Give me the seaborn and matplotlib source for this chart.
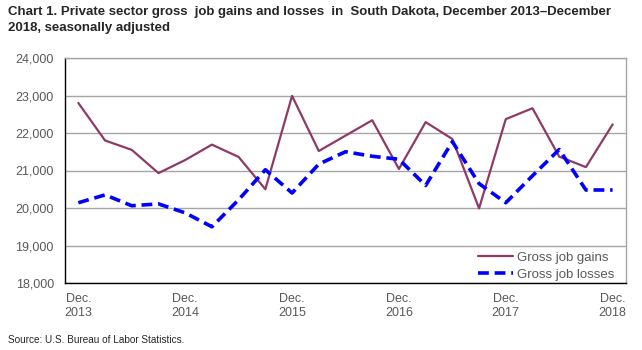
import matplotlib
matplotlib.use("Agg")
import matplotlib.pyplot as plt
import seaborn as sns
import pandas as pd
import numpy as np

quarters = ["Dec. 2013", "Mar. 2014", "Jun. 2014", "Sep. 2014", "Dec. 2014", "Mar. 2015", "Jun. 2015",
            "Sep. 2015", "Dec. 2015", "Mar. 2016", "Jun. 2016", "Sep. 2016", "Dec. 2016", "Mar. 2017",
            "Jun. 2017", "Sep. 2017", "Dec. 2017", "Mar. 2018", "Jun. 2018", "Sep. 2018", "Dec. 2018"]
gross_job_gains = [22800, 21800, 21550, 20930, 21280, 21690, 21360, 20500, 22990, 21520, 21930,
                   22340, 21040, 22290, 21840, 19990, 22370, 22660, 21370, 21090, 22230]
gross_job_losses = [20140, 20350, 20060, 20110, 19870, 19500, 20220, 21020, 20400, 21170, 21500,
                    21380, 21300, 20600, 21770, 20650, 20140, 20860, 21560, 20480, 20480]
tick_labels = ["Dec.\n2013", "Dec.\n2014", "Dec.\n2015", "Dec.\n2016", "Dec.\n2017", "Dec.\n2018"]

sns.set_style("white")
plt.rcParams['font.family'] = ['Liberation Sans', 'DejaVu Sans']

df = pd.DataFrame({
    "idx": list(range(len(quarters))) * 2,
    "value": gross_job_gains + gross_job_losses,
    "series": ["Gross job gains"] * len(quarters) + ["Gross job losses"] * len(quarters),
})

fig = plt.figure(figsize=(6.42, 3.5), dpi=100)
ax = fig.add_axes([65 / 642, 1 - 283 / 350, (626 - 65) / 642, (283 - 58) / 350])

sns.lineplot(data=df, x="idx", y="value", hue="series", style="series",
             palette={"Gross job gains": "#8E3A67", "Gross job losses": "#0000FF"},
             dashes={"Gross job gains": "", "Gross job losses": (3, 1.6)},
             ax=ax, legend=True)
for ln in ax.lines:
    c = matplotlib.colors.to_hex(ln.get_color())
    ln.set_linewidth(2.6 if c.lower() == "#0000ff" else 1.6)

ax.set_xlim(-0.5, len(quarters) - 0.5)
ax.set_ylim(18000, 24000)
ax.set_yticks(np.arange(18000, 24001, 1000))
ax.set_yticklabels([f"{v:,}" for v in range(18000, 24001, 1000)])
ax.set_xticks(list(range(0, len(quarters), 4)))
ax.set_xticklabels(tick_labels, linespacing=1.3)
ax.set_xticks(np.arange(-0.5, len(quarters), 1), minor=True)
ax.tick_params(axis="x", which="major", length=0, pad=7, labelsize=9, labelcolor="#595959")
ax.tick_params(axis="x", which="minor", length=5, width=1, color="black", direction="out")
ax.tick_params(axis="y", length=0, pad=8, labelsize=9, labelcolor="#595959")
ax.set_xlabel("")
ax.set_ylabel("")
ax.grid(axis="y", color="#A6A6A6", linewidth=1)
ax.set_axisbelow(True)
for s in ["top", "right"]:
    ax.spines[s].set_color("#A6A6A6")
    ax.spines[s].set_linewidth(1)
for s in ["left", "bottom"]:
    ax.spines[s].set_color("black")
    ax.spines[s].set_linewidth(1)

handles, labels = ax.get_legend_handles_labels()
for h in handles:
    c = matplotlib.colors.to_hex(h.get_color())
    h.set_linewidth(2.6 if c.lower() == "#0000ff" else 1.6)
leg = ax.legend(handles, labels, loc="lower right", frameon=False, fontsize=9.5,
                handlelength=2.6, handletextpad=0.3, labelspacing=0.35,
                bbox_to_anchor=(1.0, -0.042))
for t in leg.get_texts():
    t.set_color("#595959")

fig.text(8 / 642, 1 - 6 / 350,
         "Chart 1. Private sector gross  job gains and losses  in  South Dakota, December 2013\u2013December\n2018, seasonally adjusted",
         ha="left", va="top", fontsize=9.5, fontweight="bold", linespacing=1.4)
fig.text(8 / 642, 1 - 345 / 350, "Source: U.S. Bureau of Labor Statistics.", ha="left", va="bottom", fontsize=7.2)

fig.savefig("out.png", dpi=100)
